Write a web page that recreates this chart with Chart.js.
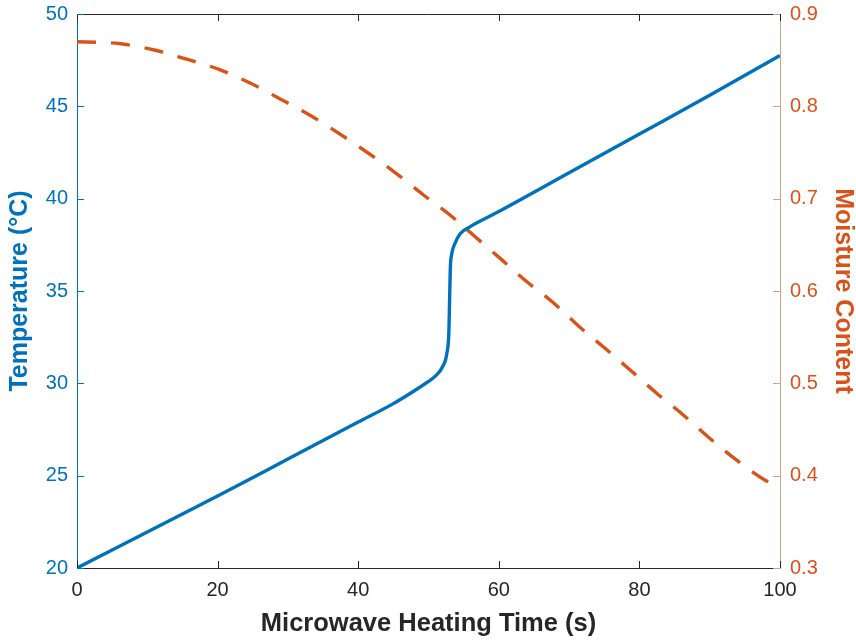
<!DOCTYPE html>
<html>
<head>
<meta charset="utf-8">
<script src="https://cdn.jsdelivr.net/npm/chart.js@4.4.1/dist/chart.umd.min.js"></script>
<style>
  html, body { margin: 0; padding: 0; background: #fff; }
  #wrap { width: 856px; height: 641px; }
</style>
</head>
<body>
<div id="wrap"><canvas id="heatChart"></canvas></div>
<script>
// temperature curve (left axis)
const tempTime = [0, 10, 20, 30, 40, 45, 48, 50, 51, 52, 52.6, 52.9, 53.0, 53.1, 53.3, 53.8, 54.5, 56, 60, 70, 80, 90, 100];
const tempValues = [20, 21.95, 23.9, 25.9, 27.9, 28.9, 29.6, 30.1, 30.4, 30.9, 31.6, 32.8, 34.5, 36.2, 37.0, 37.6, 38.1, 38.5, 39.3, 41.4, 43.5, 45.6, 47.75];

// moisture curve (right axis)
const moistTime = [0, 4, 6, 11, 15.6, 20.2, 24.7, 28.9, 33.2, 37.2, 41.3, 45.3, 49.3, 53.1, 56.6, 60.4, 64, 67.8, 71.5, 75.1, 78.9, 82.5, 86.2, 90, 93.8, 97.9, 100];
const moistValues = [0.870, 0.869, 0.868, 0.861, 0.851, 0.840, 0.825, 0.808, 0.790, 0.771, 0.750, 0.728, 0.704, 0.682, 0.659, 0.634, 0.610, 0.587, 0.561, 0.538, 0.513, 0.489, 0.466, 0.4405, 0.417, 0.395, 0.388];

const xTicks = [0, 20, 40, 60, 80, 100];
const tempTicks = [20, 25, 30, 35, 40, 45, 50];
const moistTicks = [0.3, 0.4, 0.5, 0.6, 0.7, 0.8, 0.9];

const blue = '#0072BD';
const orange = '#D95319';
const dark = '#262626';
const fontFam = 'Arial, "Liberation Sans", Helvetica, sans-serif';

const toPts = (xs, ys) => xs.map((x, i) => ({x: x, y: ys[i]}));

// keep the plot box fixed, ignore label overflow
const fixBox = size => s => {
  if (s.isHorizontal()) s.height = size; else s.width = size;
  s.paddingTop = 0; s.paddingBottom = 0; s.paddingLeft = 0; s.paddingRight = 0;
};

// matlab style ticks pointing into the plot + top box line
const inwardTicks = {
  id: 'inwardTicks',
  afterDraw(chart) {
    const {ctx, chartArea: a, scales} = chart;
    const len = 7;
    ctx.save();
    ctx.lineWidth = 1;
    ctx.strokeStyle = dark;
    ctx.beginPath();
    ctx.moveTo(a.left, a.top + 0.5);
    ctx.lineTo(a.right, a.top + 0.5);
    xTicks.forEach(v => {
      const px = Math.round(scales.x.getPixelForValue(v)) + 0.5;
      ctx.moveTo(px, a.bottom);
      ctx.lineTo(px, a.bottom - len);
      ctx.moveTo(px, a.top);
      ctx.lineTo(px, a.top + len);
    });
    ctx.stroke();
    ctx.strokeStyle = blue;
    ctx.beginPath();
    tempTicks.forEach(v => {
      const py = Math.round(scales.y.getPixelForValue(v)) + 0.5;
      ctx.moveTo(a.left, py);
      ctx.lineTo(a.left + len, py);
    });
    ctx.stroke();
    ctx.strokeStyle = '#D9A07F';
    ctx.beginPath();
    moistTicks.forEach(v => {
      const py = Math.round(scales.y1.getPixelForValue(v)) + 0.5;
      ctx.moveTo(a.right, py);
      ctx.lineTo(a.right - len, py);
    });
    ctx.stroke();
    ctx.restore();
  }
};

new Chart(document.getElementById('heatChart'), {
  type: 'line',
  data: {
    datasets: [{
      label: 'Temperature',
      data: toPts(tempTime, tempValues),
      yAxisID: 'y',
      borderColor: blue,
      borderWidth: 3.4,
      pointRadius: 0,
      cubicInterpolationMode: 'monotone',
      fill: false
    }, {
      label: 'Moisture Content',
      data: toPts(moistTime, moistValues),
      yAxisID: 'y1',
      borderColor: orange,
      borderWidth: 3.4,
      borderDash: [19, 15],
      pointRadius: 0,
      cubicInterpolationMode: 'monotone',
      fill: false
    }]
  },
  options: {
    responsive: true,
    maintainAspectRatio: false,
    animation: false,
    layout: { padding: { top: 14, left: 0, right: 0, bottom: 0 } },
    plugins: { legend: { display: false }, tooltip: { enabled: false } },
    scales: {
      x: {
        type: 'linear',
        min: 0, max: 100,
        afterBuildTicks: s => { s.ticks = xTicks.map(v => ({value: v})); },
        afterFit: fixBox(73),
        grid: { drawOnChartArea: false, drawTicks: false },
        border: { display: true, color: dark, width: 1 },
        ticks: { color: dark, padding: 10, font: { family: fontFam, size: 20 } },
        title: { display: true, text: 'Microwave Heating Time (s)', color: dark, padding: { top: 4, bottom: 4 },
          font: { family: fontFam, size: 25.5, weight: 'bold', lineHeight: 1 } }
      },
      y: {
        position: 'left',
        min: 20, max: 50,
        afterBuildTicks: s => { s.ticks = tempTicks.map(v => ({value: v})); },
        afterFit: fixBox(77),
        grid: { drawOnChartArea: false, drawTicks: false },
        border: { display: true, color: blue, width: 1 },
        ticks: { color: blue, padding: 9, font: { family: fontFam, size: 20 } },
        title: { display: true, text: 'Temperature (°C)', color: blue, padding: { top: 7.5, bottom: 0 },
          font: { family: fontFam, size: 25, weight: 'bold', lineHeight: 1 } }
      },
      y1: {
        position: 'right',
        min: 0.3, max: 0.9,
        afterBuildTicks: s => { s.ticks = moistTicks.map(v => ({value: v})); },
        afterFit: fixBox(76),
        grid: { drawOnChartArea: false, drawTicks: false },
        border: { display: true, color: '#D9A07F', width: 1 },
        ticks: { color: orange, padding: 10, font: { family: fontFam, size: 20 },
          callback: v => v.toFixed(1) },
        title: { display: true, text: 'Moisture Content', color: orange, padding: { top: 0.5, bottom: 0 },
          font: { family: fontFam, size: 25, weight: 'bold', lineHeight: 1 } }
      }
    }
  },
  plugins: [inwardTicks]
});
</script>
</body>
</html>
